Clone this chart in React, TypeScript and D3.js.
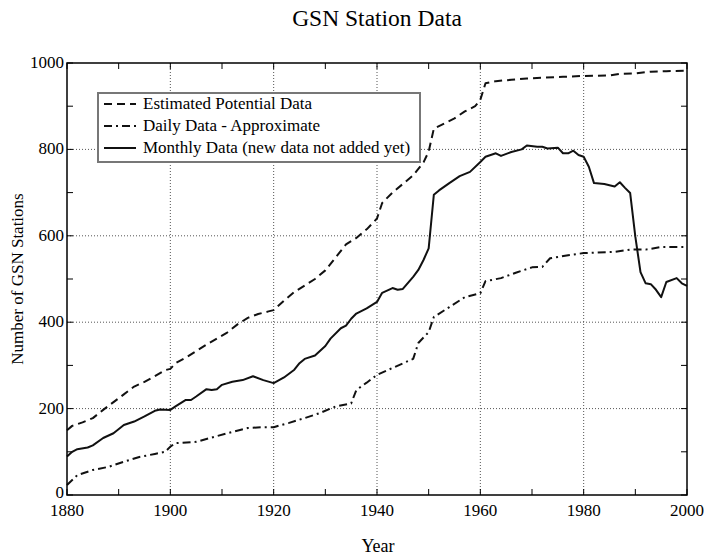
import React from 'react';
import * as d3 from 'd3';

const estYears = [1880, 1881, 1883, 1885, 1887, 1889, 1891, 1893, 1895, 1897, 1899, 1900, 1901, 1903, 1905, 1907, 1909, 1911, 1913, 1915, 1917, 1919, 1920, 1922, 1924, 1926, 1928, 1930, 1932, 1934, 1936, 1938, 1940, 1941, 1943, 1945, 1947, 1949, 1950, 1951, 1953, 1955, 1957, 1959, 1960, 1961, 1963, 1966, 1969, 1972, 1976, 1980, 1985, 1987, 1990, 1993, 1996, 2000];
const estValues = [150, 160, 168, 178, 197, 215, 233, 251, 262, 275, 289, 292, 305, 318, 333, 348, 362, 376, 395, 410, 419, 425, 428, 450, 470, 485, 500, 520, 550, 580, 595, 615, 640, 676, 700, 720, 740, 770, 795, 848, 860, 872, 888, 900, 915, 953, 958, 961, 964, 966, 968, 970, 971, 975, 976, 980, 981, 982];

const dailyYears = [1880, 1882, 1885, 1888, 1891, 1894, 1897, 1899, 1900, 1901, 1905, 1908, 1912, 1915, 1918, 1920, 1923, 1926, 1929, 1932, 1935, 1936, 1938, 1940, 1943, 1946, 1947, 1948, 1950, 1951, 1954, 1957, 1960, 1961, 1964, 1967, 1970, 1972, 1973.5, 1977, 1980, 1986, 1989, 1992, 1995, 2000];
const dailyValues = [23, 46, 58, 65, 77, 88, 95, 100, 112, 120, 123, 133, 146, 155, 157, 157, 167, 178, 190, 205, 212, 243, 260, 278, 294, 310, 315, 352, 377, 412, 435, 458, 467, 495, 502, 515, 527, 528, 548, 555, 560, 563, 568, 568, 574, 574];

const monthlyYears = [1880, 1881, 1882, 1884, 1885, 1887, 1889, 1891, 1893, 1895, 1897, 1898, 1900, 1901, 1903, 1904, 1905, 1907, 1908, 1909, 1910, 1912, 1914, 1916, 1918, 1920, 1922, 1924, 1925, 1926, 1928, 1930, 1931, 1933, 1934, 1935, 1936, 1938, 1940, 1941, 1943, 1944, 1945, 1947, 1948, 1949, 1950, 1951, 1952, 1954, 1956, 1958, 1960, 1961, 1963, 1964, 1966, 1968, 1969, 1971, 1972, 1973, 1975, 1976, 1977, 1978, 1979, 1980, 1981, 1982, 1984, 1986, 1987, 1988, 1989, 1990, 1991, 1992, 1993, 1994, 1995, 1996, 1998, 1999, 2000];
const monthlyValues = [89, 100, 106, 110, 115, 132, 143, 162, 170, 182, 195, 198, 197, 205, 220, 220, 228, 245, 243, 245, 255, 262, 266, 275, 266, 259, 272, 290, 305, 315, 323, 345, 362, 386, 392, 408, 420, 432, 447, 468, 479, 475, 477, 505, 521, 544, 571, 695, 705, 722, 738, 748, 771, 783, 791, 785, 794, 800, 809, 806, 806, 802, 804, 791, 791, 797, 787, 783, 760, 722, 720, 714, 724, 711, 699, 598, 516, 490, 488, 475, 458, 493, 502, 490, 484];

const xTickYears = [1880, 1900, 1920, 1940, 1960, 1980, 2000];
const yTickValues = [0, 200, 400, 600, 800, 1000];

const legendLabels = ['Estimated Potential Data', 'Daily Data - Approximate', 'Monthly Data (new data not added yet)'];
const legendDashes = ['8,5', '8,4,2,4', 'none'];

const W = 705;
const H = 556;
const left = 67;
const right = 687;
const top = 63;
const bottom = 495;

export default function App() {
  const x = d3.scaleLinear().domain([1880, 2000]).range([left, right]);
  const y = d3.scaleLinear().domain([0, 1000]).range([bottom, top]);

  const line = d3
    .line<[number, number]>()
    .x((d) => x(d[0]))
    .y((d) => y(d[1]));

  const series = [
    { pts: estYears.map((yr, i) => [yr, estValues[i]] as [number, number]), dash: legendDashes[0] },
    { pts: dailyYears.map((yr, i) => [yr, dailyValues[i]] as [number, number]), dash: legendDashes[1] },
    { pts: monthlyYears.map((yr, i) => [yr, monthlyValues[i]] as [number, number]), dash: legendDashes[2] },
  ];

  const minorX = d3.range(1880, 2001, 10);
  const minorY = d3.range(0, 1001, 100);
  const font = '"Liberation Serif", "Times New Roman", serif';

  return (
    <svg
      width={W}
      height={H}
      style={{ position: 'absolute', left: 0, top: 0, background: '#fff' }}
      fontFamily={font}
    >
      <text x={377} y={26} textAnchor="middle" fontSize={23.5}>
        GSN Station Data
      </text>

      {/* grid */}
      {xTickYears.slice(1, -1).map((t) => (
        <line key={'gx' + t} x1={x(t)} x2={x(t)} y1={top} y2={bottom} stroke="#555" strokeWidth={1} strokeDasharray="1,2" />
      ))}
      {yTickValues.slice(1, -1).map((t) => (
        <line key={'gy' + t} x1={left} x2={right} y1={y(t)} y2={y(t)} stroke="#555" strokeWidth={1} strokeDasharray="1,2" />
      ))}

      {/* ticks */}
      {minorX.map((t) => (
        <g key={'tx' + t}>
          <line x1={x(t)} x2={x(t)} y1={bottom} y2={bottom - 6} stroke="#000" />
          <line x1={x(t)} x2={x(t)} y1={top} y2={top + 6} stroke="#000" />
        </g>
      ))}
      {minorY.map((t) => (
        <g key={'ty' + t}>
          <line x1={left} x2={left + 6} y1={y(t)} y2={y(t)} stroke="#000" />
          <line x1={right} x2={right - 6} y1={y(t)} y2={y(t)} stroke="#000" />
        </g>
      ))}

      {/* data */}
      {series.map((s, i) => (
        <path
          key={i}
          d={line(s.pts) || ''}
          fill="none"
          stroke="#111"
          strokeWidth={2}
          strokeDasharray={s.dash}
          strokeLinejoin="round"
        />
      ))}

      <rect x={left} y={top} width={right - left} height={bottom - top} fill="none" stroke="#000" strokeWidth={1.5} />

      {/* tick labels */}
      {xTickYears.map((t) => (
        <text key={'lx' + t} x={x(t)} y={516} textAnchor="middle" fontSize={17}>
          {t}
        </text>
      ))}
      {yTickValues.map((t) => (
        <text key={'ly' + t} x={left - 3} y={t === 0 ? y(t) + 3 : y(t) + 5} textAnchor="end" fontSize={17}>
          {t}
        </text>
      ))}

      <text x={378} y={552} textAnchor="middle" fontSize={18}>
        Year
      </text>
      <text transform={`translate(23,${(top + bottom) / 2}) rotate(-90)`} textAnchor="middle" fontSize={17}>
        Number of GSN Stations
      </text>

      {/* legend */}
      <g>
        <rect x={98} y={93} width={322} height={69} fill="#fff" stroke="#777" strokeWidth={2} />
        {legendLabels.map((lab, i) => {
          const ly = 104 + i * 22;
          return (
            <g key={lab}>
              <line x1={104} x2={136} y1={ly} y2={ly} stroke="#111" strokeWidth={2} strokeDasharray={legendDashes[i]} />
              <text x={143} y={ly + 5} fontSize={17}>
                {lab}
              </text>
            </g>
          );
        })}
      </g>
    </svg>
  );
}
